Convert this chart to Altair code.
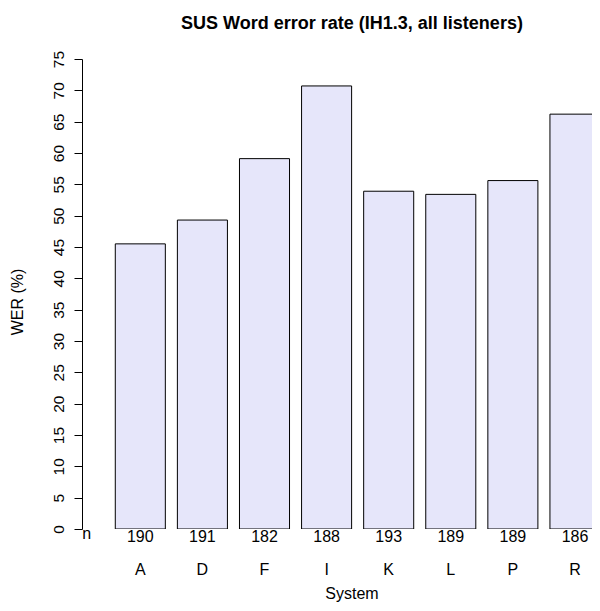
import altair as alt
import pandas as pd

systems = ["A", "D", "F", "I", "K", "L", "P", "R"]
wer = [45.5, 49.3, 59.1, 70.7, 53.9, 53.4, 55.6, 66.2]
counts = [190, 191, 182, 188, 193, 189, 189, 186]
y_ticks = list(range(0, 80, 5))

title_text = "SUS Word error rate (IH1.3, all listeners)"
x_title = "System"
y_title = "WER (%)"
n_label = "n"

FONT = "Liberation Sans"
W, H = 510, 470

df = pd.DataFrame({"System": systems, "WER": wer, "n": [str(c) for c in counts]})

# band range runs a little past the visible plot edge, so the last bar is cut off
xscale = alt.Scale(domain=systems, range=[0, 518], paddingInner=0.194,
                   paddingOuter=0.268, align=1)
yscale = alt.Scale(domain=[0, 75], nice=False, zero=True)

bars = alt.Chart(df).mark_bar(
    fill="#E6E6FA", stroke="black", strokeWidth=1, clip=True
).encode(
    x=alt.X("System:N", scale=xscale, sort=systems,
            axis=alt.Axis(title=None, ticks=False, domain=False, labelAngle=0,
                          labelFont=FONT, labelFontSize=16, labelColor="black",
                          labelBaseline="alphabetic", labelPadding=45.5)),
    y=alt.Y("WER:Q", scale=yscale,
            axis=alt.Axis(title=None, values=y_ticks, grid=False, tickSize=8,
                          tickColor="black", domainColor="black", labelAngle=-90,
                          labelAlign="center", labelBaseline="alphabetic",
                          labelPadding=11, labelFont=FONT, labelFontSize=15.5,
                          labelColor="black")),
)

count_text = alt.Chart(df).mark_text(
    font=FONT, fontSize=16, baseline="alphabetic", color="black"
).encode(
    x=alt.X("System:N", scale=xscale, sort=systems),
    y=alt.value(H + 12.5),
    text="n:N",
)

def label(txt, x, y, **kw):
    return alt.Chart(pd.DataFrame({"t": [txt]})).mark_text(
        font=FONT, color="black", **kw
    ).encode(x=alt.value(x), y=alt.value(y), text="t:N")

n_mark = label(n_label, 4.7, H + 10, fontSize=16, baseline="alphabetic")
sys_mark = label(x_title, 270, H + 70, fontSize=16, baseline="alphabetic")
wer_mark = label(y_title, -64, 243, fontSize=16, baseline="middle", angle=270)
title_mark = label(title_text, 270, -30, fontSize=18, fontWeight="bold",
                   baseline="alphabetic")

chart = alt.layer(bars, count_text, n_mark, sys_mark, wer_mark, title_mark).properties(
    width=W, height=H,
    autosize=alt.AutoSizeParams(type="none"),
    padding={"left": 74, "top": 51, "right": 0, "bottom": 74},
    background="white",
).configure_view(stroke=None)

chart.save("out.html", embed_options={"renderer": "svg", "actions": False})
